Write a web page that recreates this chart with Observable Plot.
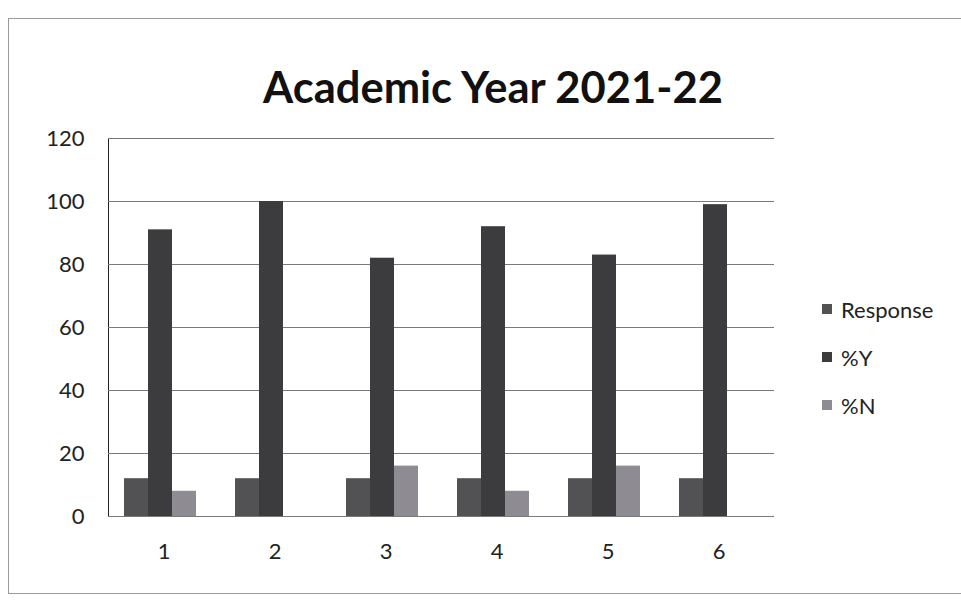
<!DOCTYPE html>
<html><head><meta charset="utf-8">
<script src="https://cdn.jsdelivr.net/npm/d3@7"></script>
<script src="https://cdn.jsdelivr.net/npm/@observablehq/plot@0.6"></script>
<style>
body{margin:0;background:#fff;}
#wrap{position:relative;width:961px;height:600px;overflow:hidden;font-family:Lato,sans-serif;background:#fff;}
#frame{position:absolute;left:8px;top:18px;width:1000px;height:574px;border:1px solid #9a9a9a;}
#title{position:absolute;left:0;width:986px;top:61px;text-align:center;font-weight:bold;font-size:43.5px;line-height:50px;color:#111;}
#legend{position:absolute;left:822px;top:285px;font-size:22px;color:#222;}
.item{display:flex;align-items:center;height:48px}
.sw{width:10px;height:10px;margin-right:9px}
#chart{position:absolute;left:0;top:0}
</style></head>
<body>
<div id="wrap">
  <div id="frame"></div>
  <div id="chart"></div>
  <div id="title">Academic Year 2021-22</div>
  <div id="legend"></div>
</div>
<script>
const groups = [1, 2, 3, 4, 5, 6];
const series = ["Response", "%Y", "%N"];
const response = [12, 12, 12, 12, 12, 12];
const pctY = [91, 100, 82, 92, 83, 99];
const pctN = [8, 0, 16, 8, 16, 0];
const yTicks = [0, 20, 40, 60, 80, 100, 120];
const colors = ["#525254", "#3c3c3f", "#8e8b92"];

const values = [response, pctY, pctN];
const rows = [];
groups.forEach((g, i) => series.forEach((s, j) => rows.push({group: g, series: s, value: values[j][i]})));

const chart = Plot.plot({
  width: 961,
  height: 600,
  marginLeft: 106,
  marginRight: 185,
  marginTop: 138,
  marginBottom: 84,
  style: {fontFamily: "Lato, sans-serif", fontSize: "22px", color: "#222", background: "transparent"},
  fx: {domain: groups, padding: 0, label: null, axis: "bottom", tickSize: 0, tickPadding: 27},
  x: {domain: series, axis: null, paddingInner: 0, paddingOuter: 0.77},
  y: {domain: [0, 120], ticks: yTicks, label: null, tickSize: 0, tickPadding: 24, line: true},
  color: {domain: series, range: colors},
  marks: [
    Plot.gridY(yTicks, {stroke: "#7a7a7a", strokeOpacity: 1, strokeWidth: 1}),
    Plot.barY(rows, {fx: "group", x: "series", y: "value", fill: "series", dx: -4})
  ]
});
chart.querySelectorAll("[aria-label='y-axis line'], [aria-label='y-axis tick'] path").forEach(e => e.setAttribute("stroke", "#8a8a8a"));
document.getElementById("chart").appendChild(chart);

const legend = document.getElementById("legend");
series.forEach((s, i) => {
  const it = document.createElement("div");
  it.className = "item";
  it.innerHTML = `<span class="sw" style="background:${colors[i]}"></span><span>${s}</span>`;
  legend.appendChild(it);
});
</script>
</body></html>
